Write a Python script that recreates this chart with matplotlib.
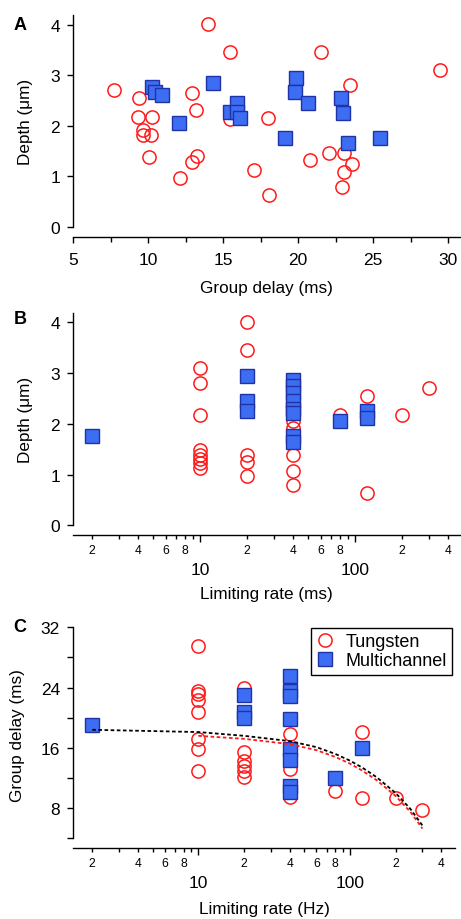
import matplotlib
matplotlib.use('Agg')
import matplotlib.pyplot as plt
from matplotlib.lines import Line2D
from matplotlib.ticker import FixedLocator, FixedFormatter

plt.rcParams['font.family'] = ['Liberation Sans', 'DejaVu Sans']

# ---------------- data ----------------
# Panel A: group delay (ms) vs depth (um)
gd_A_tung = [7.71, 9.40, 9.33, 10.27, 9.62, 9.67, 10.16, 10.02, 12.11, 12.93, 13.18, 12.93, 13.24,
             13.96, 15.44, 15.44, 18.0, 17.07, 18.07, 21.53, 20.78, 22.07, 23.04, 23.49, 23.6,
             23.04, 22.96, 29.44]
dp_A_tung = [2.71, 2.54, 2.18, 2.18, 1.91, 1.81, 1.81, 1.39, 0.96, 2.64, 2.31, 1.28, 1.41,
             4.01, 3.45, 2.14, 2.15, 1.13, 0.63, 3.45, 1.33, 1.46, 1.46, 2.81, 1.25,
             1.08, 0.80, 3.10]
gd_A_multi = [10.22, 10.44, 10.89, 12.04, 14.33, 15.44, 15.89, 15.93, 16.11, 19.11, 19.84, 19.76,
              20.67, 22.89, 23.0, 23.33, 25.49]
dp_A_multi = [2.76, 2.66, 2.60, 2.05, 2.85, 2.27, 2.45, 2.27, 2.16, 1.75, 2.95, 2.66,
              2.45, 2.55, 2.25, 1.66, 1.75]

# Panel B: limiting rate (ms) vs depth (um)
lr_B_tung = [10, 10, 10, 10, 10, 10, 10, 10, 20, 20, 20, 20, 20, 40, 40, 40, 40, 40,
             80, 120, 120, 200, 300]
dp_B_tung = [3.10, 2.80, 2.17, 1.48, 1.38, 1.30, 1.23, 1.13, 4.00, 3.45, 1.38, 1.25, 0.97,
             2.05, 1.92, 1.38, 1.08, 0.80, 2.17, 2.55, 0.64, 2.17, 2.71]
lr_B_multi = [2, 20, 20, 20, 40, 40, 40, 40, 40, 40, 40, 40, 80, 120, 120]
dp_B_multi = [1.76, 2.95, 2.45, 2.25, 2.86, 2.75, 2.60, 2.45, 2.30, 2.22, 1.77, 1.65,
              2.05, 2.26, 2.12]

# Panel C: limiting rate (Hz) vs group delay (ms)
lr_C_tung = [10, 10, 10, 10, 10, 10, 10, 10, 20, 20, 20, 20, 20, 20, 40, 40, 40,
             80, 120, 120, 200, 300]
gd_C_tung = [29.5, 23.6, 23.2, 22.4, 20.8, 17.2, 15.8, 12.9, 24.0, 15.5, 14.3, 13.6, 12.9, 12.1,
             17.9, 13.2, 9.5, 10.3, 18.1, 9.3, 9.3, 7.7]
lr_C_multi = [2, 20, 20, 20, 40, 40, 40, 40, 40, 40, 40, 40, 80, 120]
gd_C_multi = [19.1, 23.0, 20.7, 19.9, 25.5, 23.6, 22.9, 19.8, 15.9, 14.4, 11.0, 10.2, 12.0, 16.0]

# fitted curves
fit_all_x = [2, 10, 20, 40, 60, 80, 100, 120, 150, 200, 250, 300]
fit_all_y = [18.4, 18.1, 17.6, 16.9, 16.1, 15.2, 14.3, 13.4, 12.1, 10.0, 7.9, 5.7]
fit_tung_x = [10, 20, 40, 60, 80, 100, 120, 150, 200, 250, 300]
fit_tung_y = [17.6, 17.2, 16.5, 15.7, 14.8, 13.9, 13.0, 11.7, 9.6, 7.5, 5.3]

legend_labels = ['Tungsten', 'Multichannel']

# ---------------- style ----------------
W, H = 461, 920
fig = plt.figure(figsize=(W / 100, H / 100), dpi=100)

RED = '#ff1a1a'
BLUE_F = '#3d6df2'
BLUE_E = '#1f33a6'
circ = dict(marker='o', ms=9.5, mfc='none', mec=RED, mew=1.1, ls='none')
sq = dict(marker='s', ms=9.5, mfc=BLUE_F, mec=BLUE_E, mew=1.0, ls='none')

TICK_FS = 12.5
LABEL_FS = 12.3
MINOR_FS = 8.7


def ax_px(x0, x1, ytop, ybot):
    return fig.add_axes([x0 / W, 1 - ybot / H, (x1 - x0) / W, (ybot - ytop) / H])


def style(ax):
    for s in ['top', 'right']:
        ax.spines[s].set_visible(False)
    ax.spines['bottom'].set_position(('outward', 7.2))
    for s in ['left', 'bottom']:
        ax.spines[s].set_linewidth(1.0)
    ax.tick_params(axis='y', which='both', direction='out', length=4.5, width=1.0,
                   labelsize=TICK_FS, pad=5)


def log_xaxis(ax):
    ax.set_xscale('log')
    ax.xaxis.set_major_locator(FixedLocator([10, 100]))
    ax.xaxis.set_major_formatter(FixedFormatter(['10', '100']))
    minors = [2, 3, 4, 5, 6, 7, 8, 9, 20, 30, 40, 50, 60, 70, 80, 90, 200, 300, 400]
    labs = [str(int(str(m)[0])) if int(str(m)[0]) % 2 == 0 else '' for m in minors]
    ax.xaxis.set_minor_locator(FixedLocator(minors))
    ax.xaxis.set_minor_formatter(FixedFormatter(labs))
    ax.tick_params(axis='x', which='major', direction='out', length=5, width=1.0,
                   labelsize=TICK_FS, pad=14)
    ax.tick_params(axis='x', which='minor', direction='out', length=3, width=1.0,
                   labelsize=MINOR_FS, pad=3.5)


def set_labels(ax, xlabel, ylabel, xl_y, yl_x, yl_y=0.5):
    ax.set_xlabel(xlabel, fontsize=LABEL_FS)
    ax.xaxis.set_label_coords(0.5, xl_y)
    ax.xaxis.label.set_verticalalignment('center')
    ax.set_ylabel(ylabel, fontsize=LABEL_FS)
    ax.yaxis.set_label_coords(yl_x, yl_y)
    ax.yaxis.label.set_verticalalignment('center')


# ---------------- panel A ----------------
axA = ax_px(73.3, 460, 15.5, 228)
style(axA)
axA.plot(gd_A_tung, dp_A_tung, **circ)
axA.plot(gd_A_multi, dp_A_multi, **sq)
axA.set_xlim(5, 30.8)
axA.set_ylim(0, 4.2)
axA.xaxis.set_major_locator(FixedLocator([5, 10, 15, 20, 25, 30]))
axA.xaxis.set_minor_locator(FixedLocator([7.5, 12.5, 17.5, 22.5, 27.5]))
axA.set_yticks([0, 1, 2, 3, 4])
axA.tick_params(axis='x', which='major', direction='out', length=4, width=1.0,
                labelsize=TICK_FS, pad=7)
axA.tick_params(axis='x', which='minor', direction='out', length=3.5, width=1.0)
set_labels(axA, 'Group delay (ms)', 'Depth (\u03bcm)', -(288 - 228) / 212.5, -(73.3 - 25) / 386.7)

# ---------------- panel B ----------------
axB = ax_px(73.3, 460, 314.3, 526.3)
style(axB)
axB.plot(lr_B_tung, dp_B_tung, **circ)
axB.plot(lr_B_multi, dp_B_multi, **sq)
log_xaxis(axB)
axB.set_xlim(1.52, 475)
axB.set_ylim(0, 4.18)
axB.set_yticks([0, 1, 2, 3, 4])
set_labels(axB, 'Limiting rate (ms)', 'Depth (\u03bcm)', -(594 - 526.3) / 212, -(73.3 - 25) / 386.7)

# ---------------- panel C ----------------
axC = ax_px(73.3, 455, 628.3, 839.3)
style(axC)
axC.plot(lr_C_tung, gd_C_tung, **circ)
axC.plot(lr_C_multi, gd_C_multi, **sq)
axC.plot(fit_tung_x, fit_tung_y, color=RED, lw=1.3, ls=(0, (2.0, 1.4)))
axC.plot(fit_all_x, fit_all_y, color='black', lw=1.3, ls=(0, (2.0, 1.4)))
log_xaxis(axC)
axC.set_xlim(1.5, 492)
axC.set_ylim(4, 32)
axC.yaxis.set_major_locator(FixedLocator([4, 8, 12, 16, 20, 24, 28, 32]))
axC.yaxis.set_major_formatter(FixedFormatter(['', '8', '', '16', '', '24', '', '32']))
set_labels(axC, 'Limiting rate (Hz)', 'Group delay (ms)', -(910 - 839.3) / 211, -(73.3 - 17) / 381.7, 0.494)

handles = [Line2D([], [], **circ), Line2D([], [], **sq)]
leg = axC.legend(handles, legend_labels, loc='upper right', bbox_to_anchor=(452 / W, 1 - 629 / H),
                 bbox_transform=fig.transFigure, borderaxespad=0, fontsize=13, frameon=True,
                 fancybox=False, framealpha=1, edgecolor='black', handlelength=1.0,
                 handletextpad=0.6, labelspacing=0.1, borderpad=0.3)
leg.get_frame().set_linewidth(1.0)

# panel letters
for letter, yy in [('A', 25.7), ('B', 320), ('C', 628)]:
    fig.text(20 / W, 1 - yy / H, letter, fontsize=13, fontweight='bold', ha='center', va='center')

fig.savefig('out.png', dpi=100)
